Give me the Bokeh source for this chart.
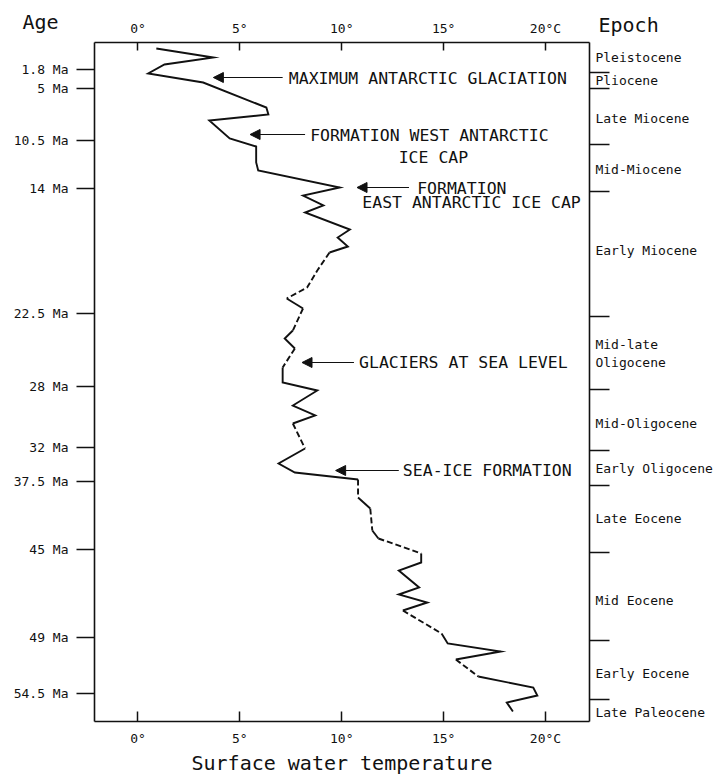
from bokeh.plotting import figure
from bokeh.models import Range1d, FixedTicker, LinearAxis, Label, Arrow, NormalHead
from bokeh.embed import file_html
from bokeh.resources import INLINE

# ---------------- data ----------------
# surface water temperature (deg C) and stratigraphic position (chart level units, 0 = top)
temp = [0.9, 3.7, 1.3, 0.5, 3.2, 6.3, 6.4, 3.5, 4.5, 5.8, 5.8, 5.9, 9.9, 8.1, 9.1, 8.2,
        10.4, 9.8, 10.3, 9.4, 8.8, 8.3, 7.3, 8.1, 7.6, 7.2, 7.7, 7.1, 7.1, 8.8, 7.6, 8.7,
        7.6, 8.2, 6.9, 7.7, 10.8, 10.8, 11.4, 11.5, 11.8, 13.9, 13.9, 12.8, 13.8, 12.8,
        14.2, 13.0, 14.9, 15.2, 17.8, 15.6, 16.7, 19.4, 19.6, 18.1, 18.4]
level = [0.6, 1.5, 2.2, 3.1, 4.0, 6.5, 7.2, 7.8, 9.6, 10.4, 12.0, 12.8, 14.5, 15.3, 16.3,
         17.0, 18.7, 19.5, 20.4, 21.0, 22.8, 24.5, 25.6, 26.6, 28.8, 29.6, 30.6, 32.5,
         34.0, 34.8, 36.3, 37.3, 38.1, 40.6, 42.1, 43.0, 43.7, 45.5, 46.6, 48.8, 49.6,
         51.1, 52.0, 52.8, 54.5, 55.2, 56.0, 56.8, 59.1, 60.1, 60.9, 61.7, 63.4, 64.5,
         65.3, 66.0, 66.9]
# 1 = uncertain (dashed) segment between consecutive points
seg_dashed = ([0] * 19 + [1] * 3 + [0] + [1] + [0] * 2 + [1] + [0] * 5 + [1] + [0] * 3 +
              [1] + [0] + [1] + [0] + [1] + [0] * 6 + [1] + [0] * 3 + [1] + [0] * 4)

age_tick_level = [2.7, 4.6, 9.8, 14.6, 27.1, 34.4, 40.5, 43.9, 50.7, 59.5, 65.1]
age_tick_label = ["1.8 Ma", "5 Ma", "10.5 Ma", "14 Ma", "22.5 Ma", "28 Ma", "32 Ma",
                  "37.5 Ma", "45 Ma", "49 Ma", "54.5 Ma"]

epoch_boundary_level = [3.0, 4.6, 10.2, 14.9, 27.4, 34.7, 40.8, 44.3, 51.0, 59.8, 65.7]
epoch_names = ["Pleistocene", "Pliocene", "Late Miocene", "Mid-Miocene", "Early Miocene",
               "Mid-late\nOligocene", "Mid-Oligocene", "Early Oligocene", "Late Eocene",
               "Mid Eocene", "Early Eocene", "Late Paleocene"]
epoch_label_level = [1.5, 3.8, 7.6, 12.7, 20.8, 31.1, 38.1, 42.6, 47.6, 55.8, 63.1, 67.0]

temp_ticks = [0, 5, 10, 15, 20]
temp_tick_labels = ["0°", "5°", "10°", "15°", "20°C"]

# events: (level, arrow head temp, arrow tail temp)
event_level = [3.5, 9.2, 14.5, 32.0, 42.8]
event_head = [3.7, 5.5, 10.75, 8.05, 9.7]
event_tail = [7.1, 8.2, 13.3, 10.6, 12.8]

FONT = "DejaVu Sans Mono"
INK = "#111111"

# plot box (data units) and overall view
BOX_X = (-2.135, 22.16)
BOX_Y = (0.0, 67.9)
W, H = 715, 777

p = figure(width=W, height=H,
           x_range=Range1d(-6.748, 28.344), y_range=Range1d(73.5, -4.2),
           x_axis_location=None, y_axis_location=None,
           output_backend="svg", toolbar_location=None,
           min_border_left=0, min_border_right=0, min_border_top=0, min_border_bottom=0)
p.grid.visible = False
p.outline_line_color = None
p.background_fill_color = "white"
p.border_fill_color = "white"


def style_axis(ax, size):
    ax.axis_line_color = INK
    ax.axis_line_width = 1.6
    ax.major_tick_line_color = INK
    ax.major_tick_line_width = 1.5
    ax.minor_tick_line_color = None
    ax.major_label_text_font = FONT
    ax.major_label_text_font_size = size
    ax.major_label_text_color = INK


top = LinearAxis(ticker=FixedTicker(ticks=temp_ticks), fixed_location=BOX_Y[0], bounds=BOX_X,
                 major_label_overrides=dict(zip(temp_ticks, temp_tick_labels)))
style_axis(top, "13px")
top.major_tick_in = 8
top.major_tick_out = 0
top.major_label_standoff = 7
p.add_layout(top, "above")

bottom = LinearAxis(ticker=FixedTicker(ticks=temp_ticks), fixed_location=BOX_Y[1], bounds=BOX_X,
                    major_label_overrides=dict(zip(temp_ticks, temp_tick_labels)),
                    axis_label="Surface water temperature")
style_axis(bottom, "13px")
bottom.major_tick_in = 10
bottom.major_tick_out = 0
bottom.major_label_standoff = 9
bottom.axis_label_text_font = FONT
bottom.axis_label_text_font_size = "20px"
bottom.axis_label_text_font_style = "normal"
bottom.axis_label_text_color = INK
bottom.axis_label_standoff = 2
p.add_layout(bottom, "below")

left = LinearAxis(ticker=FixedTicker(ticks=age_tick_level), fixed_location=BOX_X[0], bounds=BOX_Y,
                  major_label_overrides=dict(zip(age_tick_level, age_tick_label)))
style_axis(left, "13px")
left.major_tick_in = 0
left.major_tick_out = 18
left.major_label_standoff = 8
p.add_layout(left, "left")

right = LinearAxis(ticker=FixedTicker(ticks=epoch_boundary_level), fixed_location=BOX_X[1],
                   bounds=BOX_Y,
                   major_label_overrides={v: "" for v in epoch_boundary_level})
style_axis(right, "1px")
right.major_tick_in = 0
right.major_tick_out = 20
right.major_label_standoff = 0
p.add_layout(right, "right")

# ---------------- curve ----------------
solid_xs, solid_ys, dash_xs, dash_ys = [], [], [], []
start = 0
n = len(seg_dashed)
for i in range(1, n + 1):
    if i == n or seg_dashed[i] != seg_dashed[start]:
        xs = temp[start:i + 1]
        ys = level[start:i + 1]
        if seg_dashed[start]:
            dash_xs.append(xs)
            dash_ys.append(ys)
        else:
            solid_xs.append(xs)
            solid_ys.append(ys)
        start = i

p.multi_line(solid_xs, solid_ys, line_color=INK, line_width=1.9, line_join="miter")
p.multi_line(dash_xs, dash_ys, line_color=INK, line_width=1.9, line_dash="6 3")

# ---------------- annotations ----------------
for lv, hx, tx in zip(event_level, event_head, event_tail):
    p.add_layout(Arrow(x_start=tx, y_start=lv, x_end=hx, y_end=lv, line_color=INK,
                       line_width=1.2,
                       end=NormalHead(size=10, fill_color=INK, line_color=INK, line_width=1)))


def lab(x, y, text, size="16.5px", align="left"):
    p.add_layout(Label(x=x, y=y, text=text, text_font=FONT, text_font_size=size,
                       text_color=INK, text_align=align, text_baseline="middle"))


lab(7.4, 3.6, "MAXIMUM ANTARCTIC GLACIATION")
lab(8.45, 9.3, "FORMATION WEST ANTARCTIC")
lab(14.5, 11.5, "ICE CAP", align="center")
lab(13.7, 14.6, "FORMATION")
lab(16.37, 16.0, "EAST ANTARCTIC ICE CAP", align="center")
lab(10.85, 32.0, "GLACIERS AT SEA LEVEL")
lab(13.0, 42.8, "SEA-ICE FORMATION")

for name, lv in zip(epoch_names, epoch_label_level):
    lab(22.45, lv, name, size="13px")

lab(-5.67, -2.1, "Age", size="20px")
lab(22.6, -1.8, "Epoch", size="20px")

open("out.html", "w").write(file_html(p, INLINE))
